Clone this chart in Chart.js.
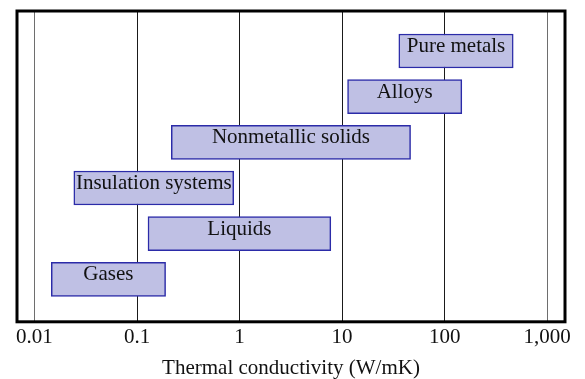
<!DOCTYPE html>
<html>
<head>
<meta charset="utf-8">
<script src="https://cdn.jsdelivr.net/npm/chart.js@4/dist/chart.umd.min.js"></script>
<style>
  body { margin: 0; background: #fff; }
  #wrap { width: 585px; height: 379px; }
</style>
</head>
<body>
<div id="wrap"><canvas id="chart" width="585" height="379"></canvas></div>
<script>
// Material classes, bottom to top.
const materials = ['Gases', 'Liquids', 'Insulation systems', 'Nonmetallic solids', 'Alloys', 'Pure metals'];
const rowIndex = [0, 1, 2, 3, 4, 5];
// Range of thermal conductivity per class (W/mK).
const lowK = [0.0146, 0.128, 0.0242, 0.216, 11.3, 35.7];
const highK = [0.19, 7.76, 0.877, 46.5, 147, 466];
// Decade ticks on the log axis.
const tickValues = [0.01, 0.1, 1, 10, 100, 1000];
const tickLabels = ['0.01', '0.1', '1', '10', '100', '1,000'];

const serif = '"Liberation Serif", "DejaVu Serif", serif';

const barData = rowIndex.map((y, i) => ({x: [lowK[i], highK[i]], y}));

// Class name written inside each bar, sitting toward the top.
const barLabels = {
  id: 'barLabels',
  afterDatasetsDraw(chart) {
    const ctx = chart.ctx;
    const meta = chart.getDatasetMeta(0);
    ctx.save();
    ctx.fillStyle = '#111';
    ctx.font = '21px ' + serif;
    ctx.textAlign = 'center';
    ctx.textBaseline = 'alphabetic';
    meta.data.forEach((bar, i) => {
      const cx = (bar.x + bar.base) / 2;
      ctx.fillText(materials[i], cx, bar.y + 1);
    });
    ctx.restore();
  },
};

// Heavy box around the plot area.
const frame = {
  id: 'frame',
  afterDraw(chart) {
    const a = chart.chartArea;
    const ctx = chart.ctx;
    ctx.save();
    ctx.strokeStyle = '#000';
    ctx.lineWidth = 3;
    ctx.strokeRect(a.left, a.top, a.right - a.left, a.bottom - a.top);
    ctx.restore();
  },
};

new Chart(document.getElementById('chart'), {
  type: 'bar',
  data: {
    datasets: [{
      data: barData,
      backgroundColor: '#bfc0e4',
      borderColor: '#2b2ba8',
      borderWidth: 1.5,
      borderSkipped: false,
      barThickness: 34,
    }],
  },
  options: {
    indexAxis: 'y',
    responsive: false,
    animation: false,
    devicePixelRatio: 1,
    layout: {padding: {left: 17, right: 20, top: 11, bottom: 0}},
    plugins: {legend: {display: false}, tooltip: {enabled: false}},
    scales: {
      x: {
        type: 'logarithmic',
        min: 0.00676,
        max: 1490,
        afterBuildTicks(scale) {
          scale.ticks = tickValues.map((value) => ({value}));
        },
        ticks: {
          autoSkip: false,
          maxRotation: 0,
          padding: 3,
          color: '#111',
          font: {family: serif, size: 21},
          callback: (value, i) => tickLabels[i],
        },
        grid: {
          // outer decades are drawn lighter
          color: (c) => (c.index === 0 || c.index === tickValues.length - 1 ? '#6e6e6e' : '#1a1a1a'),
          lineWidth: 1,
          drawTicks: false,
        },
        border: {display: false},
        title: {
          display: true,
          text: 'Thermal conductivity (W/mK)',
          color: '#111',
          font: {family: serif, size: 21, lineHeight: 22 / 21},
          padding: {top: 4, bottom: 0},
        },
      },
      y: {
        type: 'linear',
        display: false,
        offset: false,
        min: -0.93,
        max: 5.875,
      },
    },
  },
  plugins: [barLabels, frame],
});
</script>
</body>
</html>
